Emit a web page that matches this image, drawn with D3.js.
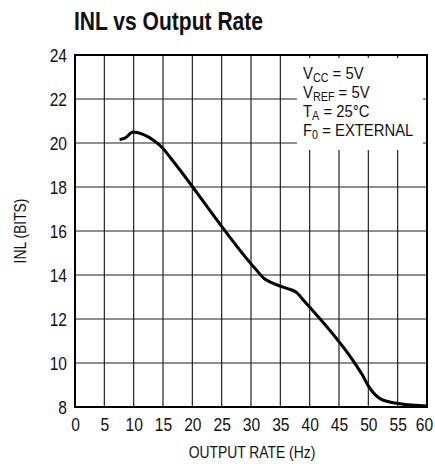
<!DOCTYPE html>
<html>
<head>
<meta charset="utf-8">
<script src="https://cdn.jsdelivr.net/npm/d3@7"></script>
<style>
  body { margin: 0; background: #fff; }
  text { font-family: "Liberation Sans", Arimo, Arial, sans-serif; fill: #111; }
</style>
</head>
<body>
<div id="chart"></div>
<script>
const margin = { top: 55, right: 8, bottom: 57, left: 75 };
const width = 435, height = 464;

// curve: output rate (Hz) vs INL (bits)
const rate = [7.6, 8.5, 9.9, 11.5, 13.5, 15.0, 16.5, 31.0, 32.2, 33.5, 36.0, 37.8, 38.8, 48.0, 49.0, 50.0, 51.2, 52.2, 55.4, 60.0];
const inl  = [20.16, 20.22, 20.5, 20.4, 20.1, 19.75, 19.25, 14.2, 13.85, 13.65, 13.4, 13.2, 12.9, 9.87, 9.45, 8.96, 8.55, 8.35, 8.15, 8.05];

const xTicks = [0, 5, 10, 15, 20, 25, 30, 35, 40, 45, 50, 55, 60];
const yTicks = [8, 10, 12, 14, 16, 18, 20, 22, 24];
const notes = [["V", "CC", " = 5V"], ["V", "REF", " = 5V"], ["T", "A", " = 25°C"], ["F", "0", " = EXTERNAL"]];

const w = width - margin.left - margin.right;
const h = height - margin.top - margin.bottom;

const x = d3.scaleLinear().domain([0, 60]).range([0, w]);
const y = d3.scaleLinear().domain([8, 24]).range([h, 0]);

// narrow the sans font to look like the condensed face of the original
function squeeze(sel, k) {
    sel.each(function () {
        const len = this.getComputedTextLength();
        d3.select(this).attr("textLength", len * k).attr("lengthAdjust", "spacingAndGlyphs");
    });
}

const svg = d3.select("#chart").append("svg")
    .attr("width", width)
    .attr("height", height);

svg.append("text")
    .attr("x", 74).attr("y", 30)
    .attr("font-size", 26).attr("font-weight", "bold")
    .attr("textLength", 189).attr("lengthAdjust", "spacingAndGlyphs")
    .text("INL vs Output Rate");

const g = svg.append("g")
    .attr("transform", "translate(" + margin.left + "," + margin.top + ")");

// grid
g.append("g").selectAll("line").data(xTicks.slice(1, -1)).join("line")
    .attr("x1", d => x(d)).attr("x2", d => x(d))
    .attr("y1", 0).attr("y2", h)
    .attr("stroke", "#222").attr("stroke-width", 1.2);

g.append("g").selectAll("line").data(yTicks.slice(1, -1)).join("line")
    .attr("x1", 0).attr("x2", w)
    .attr("y1", d => y(d)).attr("y2", d => y(d))
    .attr("stroke", "#222").attr("stroke-width", 1.2);

// notes box covers the grid
g.append("rect")
    .attr("x", 222).attr("y", 3)
    .attr("width", 126).attr("height", 92)
    .attr("fill", "#fff");

const noteG = g.append("g")
    .attr("transform", "translate(228,0) scale(0.9,1)");
const note = noteG.selectAll("text").data(notes).join("text")
    .attr("x", 0)
    .attr("y", (d, i) => 24 + i * 19)
    .attr("font-size", 16.5);
note.append("tspan").text(d => d[0]);
note.append("tspan").attr("font-size", 12).attr("dy", 3).text(d => d[1]);
note.append("tspan").attr("dy", -3).text(d => d[2]);

// frame
g.append("rect")
    .attr("width", w).attr("height", h)
    .attr("fill", "none").attr("stroke", "#000").attr("stroke-width", 2);

// axes
const xAxis = g.append("g")
    .attr("transform", "translate(0," + h + ")")
    .call(d3.axisBottom(x).tickValues(xTicks).tickSize(0).tickPadding(11));
const yAxis = g.append("g")
    .call(d3.axisLeft(y).tickValues(yTicks).tickSize(0).tickPadding(8));
[xAxis, yAxis].forEach(a => {
    a.select(".domain").remove();
    a.selectAll("text").attr("font-size", 19).attr("font-family", null).attr("fill", "#111");
    squeeze(a.selectAll("text"), 0.82);
});
// last label sits against the right edge
xAxis.selectAll("text").filter(d => d === 60).attr("x", -3);

const line = d3.line()
    .x((d, i) => x(rate[i]))
    .y(d => y(d))
    .curve(d3.curveMonotoneX);

g.append("path")
    .datum(inl)
    .attr("d", line)
    .attr("fill", "none")
    .attr("stroke", "#000")
    .attr("stroke-width", 3)
    .attr("stroke-linejoin", "round");

svg.append("text")
    .attr("x", 252).attr("y", 458)
    .attr("text-anchor", "middle").attr("font-size", 16.5)
    .text("OUTPUT RATE (Hz)")
    .call(squeeze, 0.84);

svg.append("text")
    .attr("transform", "translate(26," + (margin.top + h / 2) + ") rotate(-90)")
    .attr("text-anchor", "middle").attr("font-size", 16.5)
    .text("INL (BITS)")
    .call(squeeze, 0.84);
</script>
</body>
</html>
